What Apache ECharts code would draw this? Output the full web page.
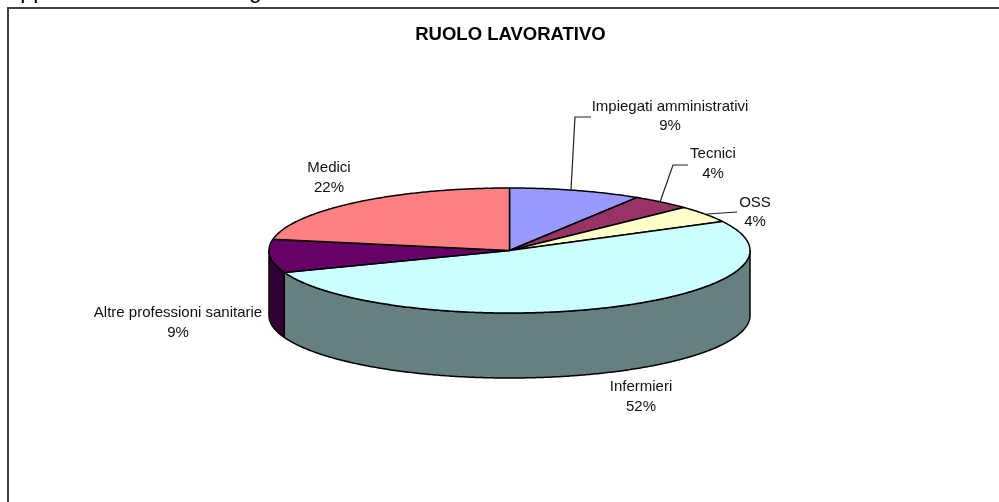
<!DOCTYPE html>
<html lang="it">
<head>
  <meta charset="UTF-8">
  <title>Ruolo lavorativo</title>
  <script src="https://cdn.jsdelivr.net/npm/echarts/dist/echarts.min.js"></script>
  <style>
    html, body { margin: 0; padding: 0; background: #fff; overflow: hidden; }
    #main { width: 999px; height: 502px; }
  </style>
</head>
<body>
  <div id="main"></div>

  <script>
    // slices, clockwise from 12 o'clock
    const roles = ['Impiegati amministrativi', 'Tecnici', 'OSS', 'Infermieri', 'Altre professioni sanitarie', 'Medici'];
    const shares = [8.9, 4.0, 4.4, 52.0, 8.6, 22.1];

    const topColors = ['#9999ff', '#993366', '#ffffcc', '#ccffff', '#660066', '#ff8080'];
    const sideColors = ['#4d4d80', '#4d1a33', '#808066', '#668080', '#330033', '#804040'];

    // label centre and leader line for each slice
    const labelAt = [[670, 116.5], [713, 164], [755, 212.5], [641, 397], [178, 323], [329, 178]];
    const leaders = [
      [[571, 190], [575, 117], [591, 117]],
      [[660, 202], [673, 165], [688, 165]],
      [[707, 214], [737, 212]],
      null, null, null
    ];

    const pie = { cx: 509.5, cy: 250.5, rx: 240.5, ry: 62.5, depth: 65 };
    const font = '15px "Liberation Sans", Arial, sans-serif';
    const total = shares.reduce((a, b) => a + b, 0);

    function rimPoint(deg, drop) {
      const r = deg * Math.PI / 180;
      return [pie.cx + pie.rx * Math.sin(r), pie.cy - pie.ry * Math.cos(r) + (drop || 0)];
    }

    function arc(from, to, drop) {
      const pts = [];
      const n = Math.max(2, Math.ceil((to - from) * 2));
      for (let i = 0; i <= n; i++) pts.push(rimPoint(from + (to - from) * i / n, drop));
      return pts;
    }

    function renderSlice(params, api) {
      const i = params.dataIndex;
      const before = shares.slice(0, i).reduce((a, b) => a + b, 0);
      const from = before / total * 360;
      const to = from + api.value(0) / total * 360;
      const children = [];

      // only the front half of the rim shows a wall
      const a = Math.max(from, 90), b = Math.min(to, 270);
      if (b > a) {
        children.push({
          type: 'polygon',
          shape: { points: arc(a, b, 0).concat(arc(a, b, pie.depth).reverse()) },
          style: { fill: sideColors[i], stroke: '#000', lineWidth: 1.5, lineJoin: 'round' }
        });
      }

      children.push({
        type: 'polygon',
        shape: { points: [[pie.cx, pie.cy]].concat(arc(from, to, 0)) },
        style: { fill: topColors[i], stroke: '#000', lineWidth: 1.5, lineJoin: 'round' }
      });

      if (leaders[i]) {
        children.push({
          type: 'polyline',
          shape: { points: leaders[i] },
          style: { fill: null, stroke: '#222', lineWidth: 1.2 }
        });
      }

      children.push({
        type: 'text',
        style: {
          x: labelAt[i][0],
          y: labelAt[i][1],
          text: roles[i] + '\n' + Math.round(api.value(0) / total * 100) + '%',
          font: font,
          fill: '#111',
          lineHeight: 19.5,
          textAlign: 'center',
          textVerticalAlign: 'middle'
        }
      });

      return { type: 'group', children: children };
    }

    const chart = echarts.init(document.getElementById('main'), null, { renderer: 'canvas' });

    const pageFont = '23px "Liberation Sans", Arial, sans-serif';

    chart.setOption({
      animation: false,
      backgroundColor: '#fff',
      title: {
        text: 'RUOLO LAVORATIVO',
        left: 505.5,
        top: 20,
        textAlign: 'center',
        textStyle: { fontFamily: '"Liberation Sans", Arial, sans-serif', fontSize: 18.5, fontWeight: 'bold', color: '#000' }
      },
      graphic: [
        {
          type: 'polyline',
          shape: { points: [[8, 502], [8, 8], [999, 8]] },
          style: { fill: null, stroke: '#404040', lineWidth: 2 }
        },
        // page text cut off by the top of the picture, only its descenders show
        { type: 'text', style: { x: 5, y: 3, text: 'App', font: pageFont, fill: '#000', textVerticalAlign: 'bottom' } },
        { type: 'text', style: { x: 249, y: 3, text: 'g', font: pageFont, fill: '#000', textVerticalAlign: 'bottom' } }
      ],
      series: [
        {
          type: 'custom',
          coordinateSystem: 'none',
          renderItem: renderSlice,
          data: shares.map((v, i) => ({ name: roles[i], value: [v] }))
        }
      ]
    });

    window.addEventListener('resize', chart.resize);
  </script>
</body>
</html>
